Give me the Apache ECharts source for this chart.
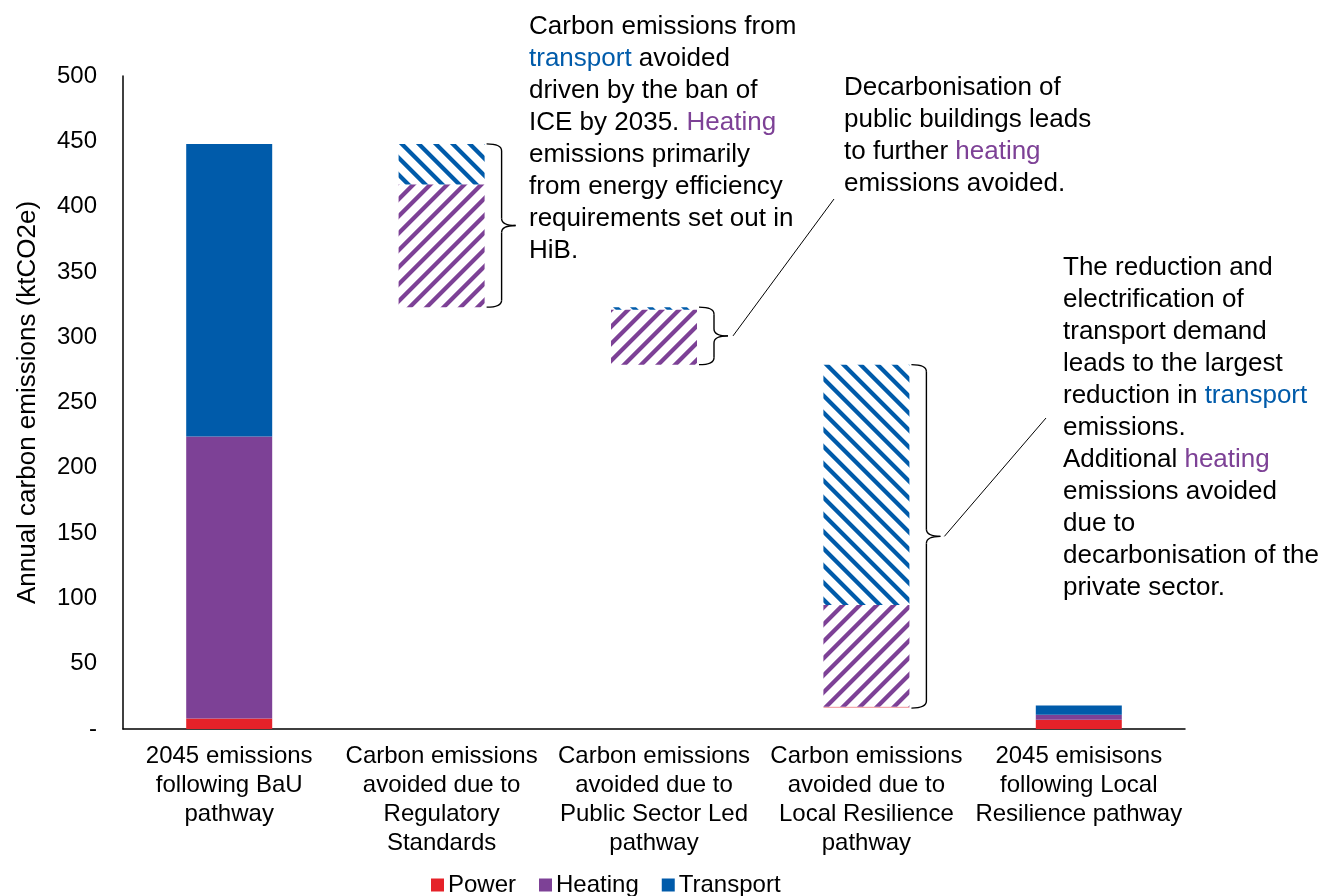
<!DOCTYPE html>
<html>
<head>
<meta charset="utf-8">
<script src="https://cdn.jsdelivr.net/npm/echarts@6/dist/echarts.min.js"></script>
<style>
  html, body { margin: 0; padding: 0; background: #fff; }
  #main { width: 1321px; height: 896px; }
</style>
</head>
<body>
<div id="main"></div>
<script>
// Categories along the x axis
const categories = [
  '2045 emissions\nfollowing BaU\npathway',
  'Carbon emissions\navoided due to\nRegulatory\nStandards',
  'Carbon emissions\navoided due to\nPublic Sector Led\npathway',
  'Carbon emissions\navoided due to\nLocal Resilience\npathway',
  '2045 emisisons\nfollowing Local\nResilience pathway'
];

// Emissions by sector (ktCO2e): totals for the two pathways, avoided amounts in between
const power     = [8, 0, 0, 1, 7];
const heating   = [216, 94, 42, 78, 4];
const transport = [224, 31, 2, 184, 7];

// Which columns are the floating "avoided" steps
const isStep = [false, true, true, true, false];

const yTicks = { min: 0, max: 500, interval: 50 };

const COLORS = { power: '#E52229', heating: '#7D4196', transport: '#005BAA' };

// Invisible offsets so each avoided step hangs from the previous column's bottom
const base = [];
(function () {
  let level = power[0] + heating[0] + transport[0];
  for (let i = 0; i < categories.length; i++) {
    if (isStep[i]) {
      level -= power[i] + heating[i] + transport[i];
      base.push(level);
    } else {
      base.push(0);
    }
  }
})();

// Seamless diagonal hatch tile, painted pixel by pixel
function hatch(hex, dir) {
  const s = 17, w = 6;
  const c = document.createElement('canvas');
  c.width = s; c.height = s;
  const g = c.getContext('2d');
  const img = g.createImageData(s, s);
  const r = parseInt(hex.slice(1, 3), 16), gg = parseInt(hex.slice(3, 5), 16), b = parseInt(hex.slice(5, 7), 16);
  for (let y = 0; y < s; y++) {
    for (let x = 0; x < s; x++) {
      // supersample 4x4 for smooth edges
      let cov = 0;
      for (let sy = 0; sy < 4; sy++) {
        for (let sx = 0; sx < 4; sx++) {
          const px = x + (sx + 0.5) / 4, py = y + (sy + 0.5) / 4;
          const t = dir === '/' ? px + py : px - py + s;
          const m = ((t % s) + s) % s;
          if (m < w) cov++;
        }
      }
      const k = (y * s + x) * 4;
      img.data[k] = r; img.data[k + 1] = gg; img.data[k + 2] = b;
      img.data[k + 3] = Math.round(cov / 16 * 255);
    }
  }
  g.putImageData(img, 0, 0);
  return { image: c, repeat: 'repeat' };
}
const heatPat = hatch(COLORS.heating, '/');
const transPat = hatch(COLORS.transport, '\\');

function styled(values, solid, pattern) {
  return values.map((v, i) => ({
    value: v,
    itemStyle: { color: isStep[i] ? pattern : solid }
  }));
}

const FONT = 'Liberation Sans, Arial, sans-serif';

const chart = echarts.init(document.getElementById('main'), null, { renderer: 'canvas' });

chart.setOption({
  animation: false,
  backgroundColor: '#fff',
  grid: { left: 123, right: 136, top: 76, bottom: 167 },
  legend: {
    data: ['Power', 'Heating', 'Transport'],
    left: 426, top: 868,
    itemWidth: 13, itemHeight: 13, itemGap: 23,
    icon: 'rect',
    textStyle: { fontFamily: FONT, fontSize: 24, color: '#000', padding: [0, 0, 0, -1] }
  },
  xAxis: {
    type: 'category',
    data: categories,
    axisLine: { lineStyle: { color: '#000', width: 1.5 } },
    axisTick: { show: false },
    axisLabel: {
      fontFamily: FONT, fontSize: 24, color: '#000', lineHeight: 29,
      margin: 13, interval: 0
    }
  },
  yAxis: {
    type: 'value',
    min: yTicks.min, max: yTicks.max, interval: yTicks.interval,
    name: 'Annual carbon emissions (ktCO2e)',
    nameLocation: 'middle', nameGap: 82, nameRotate: 90,
    nameTextStyle: { fontFamily: FONT, fontSize: 26, color: '#000' },
    axisLine: { show: true, lineStyle: { color: '#000', width: 1.5 } },
    axisTick: { show: false },
    splitLine: { show: false },
    axisLabel: {
      fontFamily: FONT, fontSize: 24, color: '#000', margin: 26,
      formatter: v => (v === 0 ? '-' : String(v))
    }
  },
  series: [
    {
      name: 'base', type: 'bar', stack: 'w', barWidth: 86,
      data: base, itemStyle: { color: 'transparent' },
      emphasis: { disabled: true }, silent: true
    },
    {
      name: 'Power', type: 'bar', stack: 'w', barWidth: 86,
      itemStyle: { color: COLORS.power },
      data: power.map((v, i) => ({
        value: v,
        itemStyle: { color: isStep[i] ? '#F4A9AC' : COLORS.power }
      }))
    },
    {
      name: 'Heating', type: 'bar', stack: 'w', barWidth: 86,
      itemStyle: { color: COLORS.heating },
      data: styled(heating, COLORS.heating, heatPat)
    },
    {
      name: 'Transport', type: 'bar', stack: 'w', barWidth: 86,
      itemStyle: { color: COLORS.transport },
      data: styled(transport, COLORS.transport, transPat)
    }
  ]
});

// Braces and notes next to the avoided steps
function px(i, v) { return chart.convertToPixel({ xAxisIndex: 0, yAxisIndex: 0 }, [i, v]); }
const braceStyle = { stroke: '#000', lineWidth: 1.4, fill: null };
function brace(x0, yTop, yBot) {
  const x1 = x0 + 15, x2 = x0 + 29, ym = (yTop + yBot) / 2, r = 7;
  const parts = [
    { type: 'bezierCurve', shape: { x1: x0, y1: yTop, cpx1: x1, cpy1: yTop, x2: x1, y2: yTop + r } },
    { type: 'line', shape: { x1: x1, y1: yTop + r, x2: x1, y2: ym - r } },
    { type: 'bezierCurve', shape: { x1: x1, y1: ym - r, cpx1: x1, cpy1: ym, x2: x2, y2: ym } },
    { type: 'bezierCurve', shape: { x1: x2, y1: ym, cpx1: x1, cpy1: ym, x2: x1, y2: ym + r } },
    { type: 'line', shape: { x1: x1, y1: ym + r, x2: x1, y2: yBot - r } },
    { type: 'bezierCurve', shape: { x1: x1, y1: yBot - r, cpx1: x1, cpy1: yBot, x2: x0, y2: yBot } }
  ];
  return parts.map(p => Object.assign(p, { style: braceStyle, silent: true }));
}

const graphics = [];
const noteRich = {
  n: { fontFamily: FONT, fontSize: 26, fill: '#000', lineHeight: 32 },
  t: { fontFamily: FONT, fontSize: 26, fill: COLORS.transport, lineHeight: 32 },
  h: { fontFamily: FONT, fontSize: 26, fill: COLORS.heating, lineHeight: 32 }
};
const halfBar = 43;
const braceTips = [];
[1, 2, 3].forEach(i => {
  const total = power[i] + heating[i] + transport[i];
  const xc = px(i, 0)[0];
  const yTop = px(i, base[i] + total)[1];
  const yBot = px(i, base[i])[1];
  const x0 = xc + halfBar + 2;
  graphics.push(...brace(x0, yTop, yBot));
  braceTips.push([x0 + 29, (yTop + yBot) / 2]);
});

// Leader lines from the second and third braces to their notes
graphics.push({
  type: 'line', silent: true,
  shape: { x1: braceTips[1][0] + 5, y1: braceTips[1][1], x2: 834, y2: 199 },
  style: { stroke: '#000', lineWidth: 1 }
});
graphics.push({
  type: 'line', silent: true,
  shape: { x1: braceTips[2][0] + 4, y1: braceTips[2][1], x2: 1046, y2: 418 },
  style: { stroke: '#000', lineWidth: 1 }
});

graphics.push({
  type: 'text', left: 529, top: 14, silent: true,
  style: {
    text: '{n|Carbon emissions from}\n{t|transport}{n| avoided}\n{n|driven by the ban of}\n' +
          '{n|ICE by 2035. }{h|Heating}\n{n|emissions primarily}\n{n|from energy efficiency}\n' +
          '{n|requirements set out in}\n{n|HiB.}',
    rich: noteRich
  }
});
graphics.push({
  type: 'text', left: 844, top: 75, silent: true,
  style: {
    text: '{n|Decarbonisation of}\n{n|public buildings leads}\n{n|to further }{h|heating}\n{n|emissions avoided.}',
    rich: noteRich
  }
});
graphics.push({
  type: 'text', x: 1063, y: 252, silent: true,
  style: {
    text: '{n|The reduction and}\n{n|electrification of}\n{n|transport demand}\n' +
          '{n|leads to the largest}\n{n|reduction in }{t|transport}\n{n|emissions.}\n' +
          '{n|Additional }{h|heating}\n{n|emissions avoided}\n{n|due to}\n' +
          '{n|decarbonisation of the}\n{n|private sector.}',
    rich: noteRich
  }
});

chart.setOption({ graphic: graphics });
</script>
</body>
</html>
